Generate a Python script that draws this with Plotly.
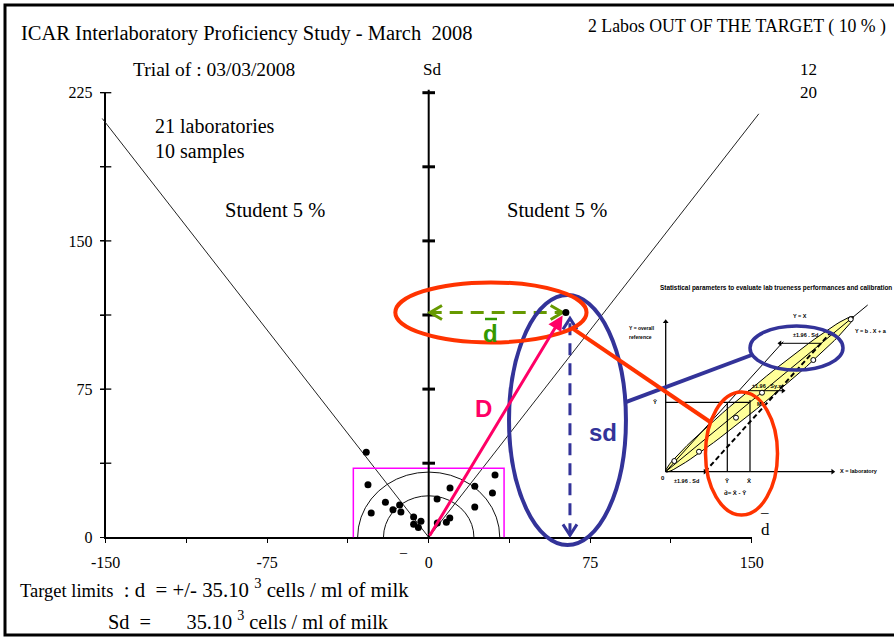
import numpy as np
import plotly.graph_objects as go

# ---------------- data ----------------
lab_d = [-29.0, -28.2, -26.7, -20.1, -16.6, -13.5, -12.9, -7.0, -3.6, -7.0, -4.8,
         3.9, 9.9, 4.0, 8.2, 9.8, 21.4, 30.8, 29.6, 21.4, 63.7]
lab_sd = [43.1, 26.6, 12.3, 17.7, 14.0, 16.3, 12.8, 10.3, 8.1, 6.6, 4.9,
          19.4, 24.9, 7.2, 7.6, 9.8, 25.8, 31.5, 22.4, 15.3, 113.8]
x_tick_vals = [-150, -75, 0, 75, 150]
x_tick_text = ["-150", "-75", "0", "75", "150"]
y_tick_vals = [0, 75, 150, 225]
minor_step = 37.5
n_labs = 21
n_samples = 10
t_student_5pct = 2.262
target_d = 35
target_sd = 35
target_circle_radii = [21, 33]
student_x_ends = [-151.6, 153.3]
labs_out = 2
pct_out = 10
trial_date = "03/03/2008"
corner_labels = ["12", "20"]

# ---------------- geometry ----------------
W, H = 894, 637
PX_L, PX_R = 105.7, 751.7      # pixel of x=-150 / x=150
PY_B, PY_T = 537.3, 92.7       # pixel of y=0 / y=225
X_MIN, X_MAX, Y_MIN, Y_MAX = -150, 150, 0, 225
sx = (PX_R - PX_L) / (X_MAX - X_MIN)
sy = (PY_B - PY_T) / (Y_MAX - Y_MIN)
PX_0 = PX_L - X_MIN * sx


def px2x(px):
    return (px - PX_0) / sx


def py2y(py):
    return (PY_B - py) / sy


def paper(px, py):
    return px / W, 1 - py / H


# inset schematic: origin pixel and pixel per unit
IO_X, IO_Y, IU = 665.7, 471.7, 2.0


def inset_to_main(X, Y):
    return px2x(IO_X + IU * X), py2y(IO_Y - IU * Y)


def chevron(xt, yt, ang, L, Wd):
    a = np.radians(ang)
    bx, by = -np.cos(a), -np.sin(a)
    qx, qy = -np.sin(a), np.cos(a)
    xs = [xt + (bx * L + qx * Wd) / sx, xt, xt + (bx * L - qx * Wd) / sx]
    ys = [yt + (by * L + qy * Wd) / sy, yt, yt + (by * L - qy * Wd) / sy]
    return xs, ys


fig = go.Figure()
XY2 = dict(xaxis="x2", yaxis="y2")
XY3 = dict(xaxis="x3", yaxis="y3")

# dummy trace for main axes
fig.add_trace(go.Scatter(x=[0], y=[0], mode="markers", marker=dict(opacity=0),
                         hoverinfo="skip", showlegend=False))

# Student 5 % lines
slope = np.sqrt(n_samples) / t_student_5pct
sxl = [student_x_ends[0], 0, student_x_ends[1]]
fig.add_trace(go.Scatter(x=sxl, y=[slope * abs(v) for v in sxl], mode="lines",
                         line=dict(color="#222", width=1), hoverinfo="skip", **XY2))

# target circles (polygonal arcs)
for r in target_circle_radii:
    th = np.linspace(0, np.pi, 21)
    fig.add_trace(go.Scatter(x=r * np.cos(th), y=r * np.sin(th), mode="lines",
                             line=dict(color="#111", width=1), hoverinfo="skip", **XY2))

# target rectangle
fig.add_trace(go.Scatter(x=[-target_d, -target_d, target_d, target_d],
                         y=[0, target_sd, target_sd, 0], mode="lines",
                         line=dict(color="#FF00FF", width=1.5), hoverinfo="skip", **XY2))

# crossing ticks on left axis
lticks = [minor_step * k for k in range(1, int(Y_MAX / minor_step) + 1)]
fig.add_trace(go.Scatter(x=[X_MIN] * len(lticks), y=lticks, mode="markers",
                         marker=dict(symbol="line-ew", size=8,
                                     line=dict(color="black", width=1.3)),
                         hoverinfo="skip", **XY2))

# central Sd axis
fig.add_trace(go.Scatter(x=[0, 0], y=[0, Y_MAX + 1.5], mode="lines",
                         line=dict(color="black", width=2), hoverinfo="skip", **XY2))
fig.add_trace(go.Scatter(x=[0] * len(lticks), y=lticks, mode="markers",
                         marker=dict(symbol="line-ew", size=9,
                                     line=dict(color="black", width=3)),
                         hoverinfo="skip", **XY2))

out_d, out_sd = lab_d[-1], lab_sd[-1]

# green dashed d-bar arrow
GREEN = "#669900"
fig.add_trace(go.Scatter(x=[0, out_d - 1.5], y=[out_sd, out_sd], mode="lines",
                         line=dict(color=GREEN, width=3, dash="13px,8px"),
                         hoverinfo="skip", **XY2))
for (xt, ang) in [(0.6, 180), (out_d - 1.5, 0)]:
    cx, cy = chevron(xt, out_sd, ang, 12, 7)
    fig.add_trace(go.Scatter(x=cx, y=cy, mode="lines", line=dict(color=GREEN, width=3),
                             hoverinfo="skip", **XY2))

# blue dashed sd arrow
BLUE = "#333399"
bx = out_d + 1.9
fig.add_trace(go.Scatter(x=[bx, bx], y=[1.0, out_sd - 3], mode="lines",
                         line=dict(color=BLUE, width=3, dash="12px,8px"),
                         hoverinfo="skip", **XY2))
for (yt, ang) in [(out_sd - 3, 90), (1.0, 270)]:
    cx, cy = chevron(bx, yt, ang, 11, 7)
    fig.add_trace(go.Scatter(x=cx, y=cy, mode="lines", line=dict(color=BLUE, width=3),
                             hoverinfo="skip", **XY2))

# laboratory points
fig.add_trace(go.Scatter(x=lab_d, y=lab_sd, mode="markers",
                         marker=dict(color="black", size=7), hoverinfo="skip", **XY2))

# ---------------- inset schematic ----------------
ins_reg = ([0, 101], [0, 83.35])
ins_yx = ([0, 58.8], [0, 65])
ins_dash = ([19.65, 82.15], [0, 69.2])
ins_ybar, ins_xbar, ins_yx_at_ybar, ins_m = 34.7, 42.15, 30.8, 35.85
ins_pts_x = [4.3, 16.65, 35.15, 48.15, 73.8, 92.5]
ins_pts_y = [5.35, 10, 27, 39.5, 55.85, 76.2]
ins_end = (93.8, 77.5)

# yellow ellipse
ccx, ccy = ins_end[0] / 2, ins_end[1] / 2
ea = np.hypot(*ins_end) / 2
eb = 4.8
ang = np.arctan2(ins_end[1], ins_end[0])
t = np.linspace(0, 2 * np.pi, 80)
ex = ccx + ea * np.cos(t) * np.cos(ang) - eb * np.sin(t) * np.sin(ang)
ey = ccy + ea * np.cos(t) * np.sin(ang) + eb * np.sin(t) * np.cos(ang)
fig.add_trace(go.Scatter(x=ex, y=ey, mode="lines", fill="toself", fillcolor="#FFFF99",
                         line=dict(color="black", width=1), hoverinfo="skip", **XY3))
for (lx, ly, w, d) in [(ins_reg[0], ins_reg[1], 1, "solid"), (ins_yx[0], ins_yx[1], 1, "solid"),
                       (ins_dash[0], ins_dash[1], 2, "5px,3px"),
                       ([0, 0], [0, 75], 1.3, "solid"), ([0, 83.5], [0, 0], 1.3, "solid"),
                       ([0, ins_xbar], [ins_ybar, ins_ybar], 1.2, "solid"),
                       ([ins_yx_at_ybar, ins_yx_at_ybar], [0, ins_ybar], 1.2, "solid"),
                       ([ins_xbar, ins_xbar], [0, ins_m], 1.2, "solid"),
                       ([57.15, 78], [64.2, 64.2], 1, "solid"),
                       ([41.15, 58.65], [40.5, 40.5], 1, "solid")]:
    fig.add_trace(go.Scatter(x=lx, y=ly, mode="lines", line=dict(color="black", width=w, dash=d),
                             hoverinfo="skip", **XY3))
fig.add_trace(go.Scatter(x=[0, 83.5, 19.65, 57.15, 58.65], y=[75, 0, 0, 64.2, 40.5],
                         mode="markers",
                         marker=dict(symbol=["triangle-up", "triangle-right", "triangle-right",
                                             "triangle-left", "triangle-right"],
                                     size=5, color="black"), hoverinfo="skip", **XY3))
fig.add_trace(go.Scatter(x=ins_pts_x, y=ins_pts_y, mode="markers",
                         marker=dict(symbol="circle", size=5, color="white",
                                     line=dict(color="black", width=1)),
                         hoverinfo="skip", **XY3))

# ---------------- shapes ----------------
RED = "#FF3300"
shapes = []
shapes.append(dict(type="circle", xref="x2", yref="y2", x0=out_d - 26.4, x1=out_d + 27.9,
                   y0=-3.9, y1=out_sd + 8.8, line=dict(color=BLUE, width=4)))
shapes.append(dict(type="circle", xref="x2", yref="y2", x0=-15.5, x1=out_d + 9.6,
                   y0=out_sd - 15.2, y1=out_sd + 15.2, line=dict(color=RED, width=4)))
shapes.append(dict(type="circle", xref="x3", yref="y3", x0=37.9 - 18, x1=37.9 + 18,
                   y0=9.1 - 30.75, y1=9.1 + 30.75, line=dict(color=RED, width=3.5)))
shapes.append(dict(type="circle", xref="x3", yref="y3", x0=65.4 - 23.25, x1=65.4 + 23.25,
                   y0=61.85 - 11, y1=61.85 + 11, line=dict(color=BLUE, width=3.5)))
bxm, bym = inset_to_main(43, 58.35)
shapes.append(dict(type="line", xref="x2", yref="y2", x0=91.2, y0=68.25, x1=bxm, y1=bym,
                   line=dict(color=BLUE, width=4)))
rxm, rym = inset_to_main(23, 24.35)
shapes.append(dict(type="line", xref="x2", yref="y2", x0=67.1, y0=105.5, x1=rxm, y1=rym,
                   line=dict(color=RED, width=4)))
shapes.append(dict(type="line", xref="paper", yref="paper",
                   x0=paper(485, 319)[0], x1=paper(497, 319)[0],
                   y0=paper(485, 319)[1], y1=paper(485, 319)[1],
                   line=dict(color="#339900", width=2.5)))
shapes.append(dict(type="rect", xref="paper", yref="paper", x0=5 / W, x1=1.02,
                   y0=1 - 635 / H, y1=1 - 5 / H, line=dict(color="black", width=3)))

# ---------------- annotations ----------------
SERIF = "Liberation Serif"
ARIAL = "Liberation Sans"
ann = []


def txt(px, py, s, size, anchor="left", font=SERIF, color="black", bold=False):
    x, y = paper(px, py)
    if bold:
        s = "<b>" + s + "</b>"
    ann.append(dict(x=x, y=y, xref="paper", yref="paper", text=s, showarrow=False,
                    xanchor=anchor, yanchor="middle",
                    font=dict(family=font, size=size, color=color)))


NB = "\u00a0"
txt(19, 33, "ICAR Interlaboratory Proficiency Study - March" + NB + NB + "2008", 20.5)
txt(586, 27, f"{labs_out} Labos OUT OF THE TARGET ( {pct_out} % )", 17.8)
txt(131, 69, "Trial of : " + trial_date, 19.5)
txt(432, 69, "Sd", 17, "center")
txt(808, 69, corner_labels[0], 17, "center")
txt(808, 92, corner_labels[1], 17, "center")
txt(153, 126, f"{n_labs} laboratories", 20)
txt(153, 151, f"{n_samples} samples", 20)
txt(275, 210, "Student 5 %", 20.5, "center")
txt(557, 210, "Student 5 %", 20.5, "center")
txt(18, 588, "<span style='font-size:18.5px'>Target limits</span>" + NB + NB +
    ": d" + NB + NB + f"= +/- {target_d}.10" + NB + "<sup>3</sup> cells / ml of milk", 20.8)
txt(106, 620, "Sd" + NB + NB + "=" + NB * 7 + f"{target_sd}.10" + NB +
    "<sup>3</sup> cells / ml of milk", 20.3)
txt(764, 512, "\u2013", 15, "center")
txt(765, 529, "d", 17, "center")
txt(403, 552, "\u2013", 14, "center")
txt(484, 408, "D", 24, "center", ARIAL, "#FF0066", True)
txt(491, 333, "d", 24, "center", ARIAL, "#339900", True)
txt(603, 432, "sd", 24, "center", ARIAL, BLUE, True)

# pink arrow D
ann.append(dict(x=out_d - 1.5, y=out_sd - 1.5, ax=0, ay=0, xref="x2", yref="y2",
                axref="x2", ayref="y2", text="", showarrow=True, arrowhead=2,
                arrowsize=1, arrowwidth=3, arrowcolor="#FF0066", standoff=0))


def itxt(X, Y, s, size, anchor="center", bold=True):
    ann.append(dict(x=X, y=Y, xref="x3", yref="y3", text=("<b>" + s + "</b>") if bold else s,
                    showarrow=False, xanchor=anchor, yanchor="middle",
                    font=dict(family=ARIAL, size=size, color="black")))


itxt(55.15, 91.85, "Statistical parameters to evaluate lab trueness performances and calibration", 6.4)
itxt(-19.35, 71.85, "Y = overall", 5, "left")
itxt(-19.35, 67.35, "reference", 5, "left")
itxt(67.15, 77.85, "Y = X", 5.5)
itxt(93.65, 70.35, "Y = b . X + a", 5.5, "left")
itxt(69.65, 68.35, "±1.96 . Sd", 5.5)
itxt(50.65, 42.85, "±1.96 . Sy.x", 5.5)
itxt(-3.6, 34.85, "\u0232", 6, "right")
itxt(44.8, 34.0, "M", 5, "left")
itxt(-1.35, -3.3, "0", 6)
itxt(10.15, -4.7, "±1.96 . Sd", 5.5)
itxt(30.65, -4.7, "\u0232", 6)
itxt(41.65, -4.7, "X\u0304", 6)
itxt(34.65, -10.8, "d\u0304= X\u0304 - \u0232", 6)
itxt(86.15, 0.35, "X = laboratory", 5.5, "left")

# ---------------- layout ----------------
tickfont = dict(family=SERIF, size=16, color="black")
fig.update_layout(
    width=W, height=H, margin=dict(l=0, r=0, t=0, b=0, autoexpand=False),
    paper_bgcolor="white", plot_bgcolor="rgba(0,0,0,0)", showlegend=False,
    xaxis=dict(domain=[PX_L / W, PX_R / W], range=[X_MIN, X_MAX], anchor="y",
               showline=True, linecolor="black", linewidth=2, showgrid=False, zeroline=False,
               tickmode="array", tickvals=x_tick_vals, ticktext=x_tick_text,
               ticks="outside", ticklen=4,
               tickcolor="black", tickfont=tickfont, ticklabelstandoff=5,
               minor=dict(dtick=minor_step, tick0=0, ticks="outside", ticklen=4,
                          tickcolor="black")),
    yaxis=dict(domain=[1 - PY_B / H, 1 - PY_T / H], range=[Y_MIN, Y_MAX], anchor="x",
               showline=True, linecolor="black", linewidth=2, showgrid=False, zeroline=False,
               tickmode="array", tickvals=y_tick_vals, ticks="outside", ticklen=4,
               tickcolor="black", tickfont=tickfont, ticklabelstandoff=4,
               minor=dict(dtick=minor_step, tick0=0, ticks="outside", ticklen=4,
                          tickcolor="black")),
    xaxis2=dict(domain=[0, 1], range=[px2x(0), px2x(W)], anchor="y2", visible=False),
    yaxis2=dict(domain=[0, 1], range=[py2y(H), py2y(0)], anchor="x2", visible=False),
    xaxis3=dict(domain=[0, 1], range=[(0 - IO_X) / IU, (W - IO_X) / IU], anchor="y3",
                visible=False),
    yaxis3=dict(domain=[0, 1], range=[(IO_Y - H) / IU, IO_Y / IU], anchor="x3",
                visible=False),
    shapes=shapes, annotations=ann,
)
fig.write_html("out.html", config={"displayModeBar": False},
               post_script="document.body.style.margin='0';document.body.style.overflow='hidden';")
